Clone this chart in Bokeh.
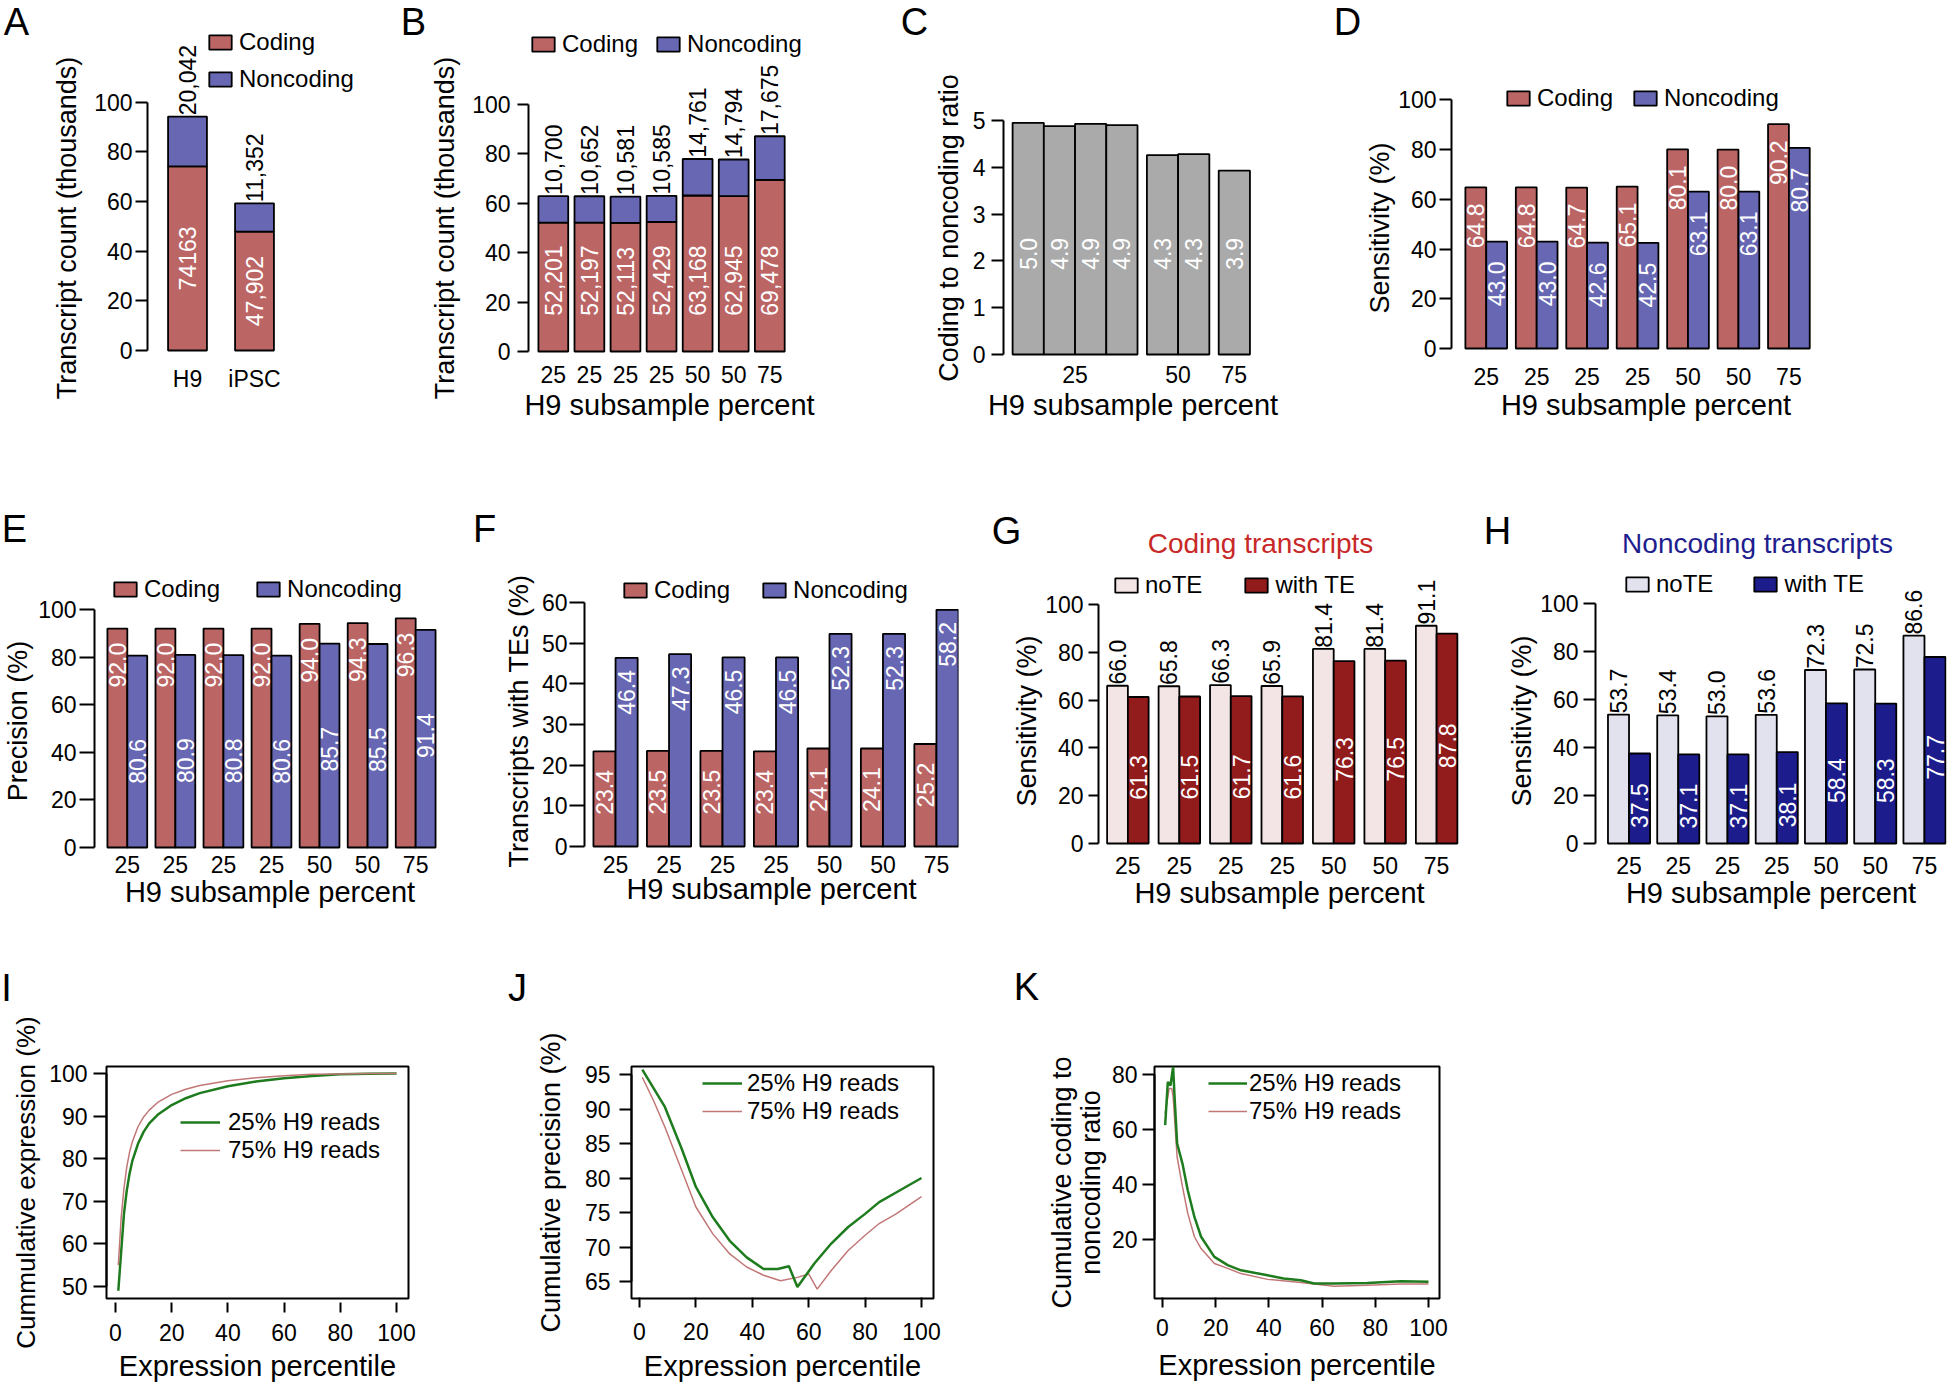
import math
from bokeh.plotting import figure
from bokeh.layouts import column, row
from bokeh.models import (Range1d, FixedTicker, Legend, LegendItem, Label,
                          CustomJSTickFormatter)
from bokeh.core.properties import value
from bokeh.embed import file_html
from bokeh.resources import INLINE

# ---------------------------------------------------------------- data
a_samples = ["H9", "iPSC"]
a_coding = [74163, 47902]
a_noncoding = [20042, 11352]
a_coding_labels = ["74163", "47,902"]
a_noncoding_labels = ["20,042", "11,352"]

subsample = ["25", "25", "25", "25", "50", "50", "75"]

b_coding = [52201, 52197, 52113, 52429, 63168, 62945, 69478]
b_noncoding = [10700, 10652, 10581, 10585, 14761, 14794, 17675]

c_groups = ["25", "50", "75"]
c_group_sizes = [4, 2, 1]
c_ratio = [4.95, 4.88, 4.93, 4.90, 4.26, 4.28, 3.93]
c_labels = ["5.0", "4.9", "4.9", "4.9", "4.3", "4.3", "3.9"]

d_coding = [64.8, 64.8, 64.7, 65.1, 80.1, 80.0, 90.2]
d_noncoding = [43.0, 43.0, 42.6, 42.5, 63.1, 63.1, 80.7]

e_coding = [92.0, 92.0, 92.0, 92.0, 94.0, 94.3, 96.3]
e_noncoding = [80.6, 80.9, 80.8, 80.6, 85.7, 85.5, 91.4]

f_coding = [23.4, 23.5, 23.5, 23.4, 24.1, 24.1, 25.2]
f_noncoding = [46.4, 47.3, 46.5, 46.5, 52.3, 52.3, 58.2]

g_note = [66.0, 65.8, 66.3, 65.9, 81.4, 81.4, 91.1]
g_withte = [61.3, 61.5, 61.7, 61.6, 76.3, 76.5, 87.8]

h_note = [53.7, 53.4, 53.0, 53.6, 72.3, 72.5, 86.6]
h_withte = [37.5, 37.1, 37.1, 38.1, 58.4, 58.3, 77.7]

pct_ticks = [0, 20, 40, 60, 80, 100]

i_x = [1, 2, 3, 4, 5, 6, 8, 10, 12, 15, 20, 25, 30, 40, 50, 60, 70, 80, 90, 100]
i_25 = [49.0, 58.0, 67.0, 72.5, 76.5, 79.5, 83.5, 86.3, 88.3, 90.3, 92.6, 94.2,
        95.4, 97.0, 98.1, 98.9, 99.4, 99.8, 99.95, 100.0]
i_75 = [55.0, 66.0, 73.0, 78.0, 81.5, 84.0, 87.5, 89.8, 91.4, 93.2, 95.1, 96.3,
        97.2, 98.3, 99.0, 99.5, 99.8, 99.9, 100.0, 100.0]

j_x25 = [1, 9, 15, 20, 26, 32, 38, 44, 49, 53, 56, 62, 68, 74, 80, 85, 91, 100]
j_25 = [95.7, 90.3, 84.2, 78.7, 74.3, 70.9, 68.5, 66.8, 66.8, 67.2, 64.2, 67.6,
        70.5, 72.9, 74.8, 76.5, 77.9, 80.0]
j_x75 = [1, 5, 9, 15, 20, 26, 32, 38, 44, 50, 56, 60, 63, 68, 74, 80, 85, 91, 100]
j_75 = [94.6, 91.2, 87.4, 81.1, 75.8, 71.9, 69.0, 67.1, 65.9, 65.1, 65.6, 66.1,
        63.9, 66.6, 69.5, 71.7, 73.4, 74.8, 77.3]

k_x25 = [1, 2, 3, 4, 4.5, 5.5, 7.5, 9.5, 12, 14.5, 19.5, 24.5, 29.5, 39.5, 45.5,
         52, 57, 64.5, 77, 89.5, 100]
k_25 = [61.6, 77.3, 76.0, 82.8, 72.5, 54.9, 47.6, 37.9, 28.2, 21.0, 13.7, 10.7,
        8.8, 7.0, 5.8, 5.2, 4.0, 4.0, 4.2, 4.8, 4.6]
k_x75 = [1, 2, 2.5, 3.5, 4, 5.5, 7.5, 9.5, 12, 14.5, 19.5, 24.5, 29.5, 39.5, 52,
         64.5, 77, 89.5, 100]
k_75 = [65.8, 71.9, 74.9, 74.9, 71.9, 50.0, 39.2, 29.5, 21.0, 16.7, 11.3, 9.5,
        7.6, 5.5, 4.4, 3.0, 3.4, 3.8, 3.8]

# ---------------------------------------------------------------- style
FONT = "Liberation Sans"
TICK_FS = "23px"
YTITLE_FS = "27px"
XTITLE_FS = "29px"
LEG_FS = "24px"
BAR_FS = "23px"
LETTER_FS = "38px"
PTITLE_FS = "28px"
AX_LW = 2
BAR_LW = 1.8
PAGE_W = 1950

CODING = "#BC6565"
NONCODING = "#6767B3"
GRAY = "#AAAAAA"
G_NOTE = "#F3E5E5"
G_TE = "#921B1B"
H_NOTE = "#E2E2EF"
H_TE = "#1C1C8C"
GREEN = "#1E7B1E"
RED_LINE = "#C27777"
TITLE_RED = "#C82828"
TITLE_BLUE = "#1E1E8E"


def lin(v0, p0, v1, p1):
    k = (v1 - v0) / (p1 - p0)
    return lambda px: v0 + (px - p0) * k


def make_panel(canvas, frame, xmap, ymap, box=False):
    cx0, cy0, cx1, cy1 = canvas
    fx0, fy0, fx1, fy1 = frame
    fx = lin(*xmap)
    fy = lin(*ymap)
    p = figure(width=cx1 - cx0, height=cy1 - cy0, title=None,
               x_range=Range1d(fx(fx0), fx(fx1)),
               y_range=Range1d(fy(fy1), fy(fy0)),
               min_border_left=fx0 - cx0, min_border_right=cx1 - fx1,
               min_border_top=fy0 - cy0, min_border_bottom=cy1 - fy1,
               output_backend="svg", toolbar_location=None)
    p.xgrid.visible = False
    p.ygrid.visible = False
    p.background_fill_color = "white"
    p.border_fill_color = "white"
    if box:
        p.outline_line_color = "black"
        p.outline_line_width = AX_LW
        p.outline_line_alpha = 1.0
    else:
        p.outline_line_color = None
    return p


def text_fig(x0, x1, y0, y1, items):
    """A bare canvas (no axes) that only carries panel letters / titles."""
    w, h = x1 - x0, y1 - y0
    p = figure(width=w, height=h, title=None,
               x_range=Range1d(0, w), y_range=Range1d(h, 0),
               min_border_left=0, min_border_right=0,
               min_border_top=0, min_border_bottom=0,
               x_axis_location=None, y_axis_location=None,
               output_backend="svg", toolbar_location=None)
    p.grid.visible = False
    p.outline_line_color = None
    p.background_fill_color = "white"
    p.border_fill_color = "white"
    for txt, x, y, size, color in items:
        p.add_layout(Label(x=x - x0, y=y - y0, text=txt, text_align="center",
                           text_baseline="middle", text_font=FONT,
                           text_font_size=size, text_color=color))
    return p


def style_y(p, ticks, title, tick_len, tick_standoff, title_standoff,
            title_fs=YTITLE_FS, line_height=1.2):
    ax = p.yaxis[0]
    ax.ticker = FixedTicker(ticks=ticks)
    ax.bounds = (ticks[0], ticks[-1])
    ax.axis_label = title
    ax.axis_line_width = AX_LW
    ax.axis_line_color = "black"
    ax.major_tick_line_width = AX_LW
    ax.major_tick_line_color = "black"
    ax.major_tick_out = tick_len
    ax.major_tick_in = 0
    ax.minor_tick_line_color = None
    ax.major_label_standoff = tick_standoff
    ax.axis_label_standoff = title_standoff
    ax.major_label_text_font = FONT
    ax.major_label_text_font_size = TICK_FS
    ax.major_label_text_color = "black"
    ax.axis_label_text_font = FONT
    ax.axis_label_text_font_size = title_fs
    ax.axis_label_text_font_style = "normal"
    ax.axis_label_text_color = "black"
    ax.axis_label_text_line_height = line_height


def style_x_common(ax, tick_standoff, title, title_standoff):
    ax.major_label_standoff = tick_standoff
    if title:
        ax.axis_label = title
    ax.axis_label_standoff = title_standoff
    ax.minor_tick_line_color = None
    ax.major_label_text_font = FONT
    ax.major_label_text_font_size = TICK_FS
    ax.major_label_text_color = "black"
    ax.axis_label_text_font = FONT
    ax.axis_label_text_font_size = XTITLE_FS
    ax.axis_label_text_font_style = "normal"
    ax.axis_label_text_color = "black"


def style_x_bars(p, ticks, labels, title, tick_standoff, title_standoff):
    ax = p.xaxis[0]
    ax.ticker = FixedTicker(ticks=ticks)
    ax.formatter = CustomJSTickFormatter(args=dict(labels=list(labels)),
                                         code="return labels[index];")
    ax.axis_line_color = None
    ax.major_tick_line_color = None
    ax.major_tick_out = 0
    ax.major_tick_in = 0
    style_x_common(ax, tick_standoff, title, title_standoff)


def style_x_lines(p, tick_in, tick_out, tick_standoff, title_standoff):
    ax = p.xaxis[0]
    ax.ticker = FixedTicker(ticks=pct_ticks)
    ax.axis_line_color = None
    ax.major_tick_line_width = AX_LW
    ax.major_tick_line_color = "black"
    ax.major_tick_in = tick_in
    ax.major_tick_out = tick_out
    style_x_common(ax, tick_standoff, "Expression percentile", title_standoff)


def vlabels(p, xs, ys, texts, align, color):
    p.text(x=xs, y=ys, text=texts, angle=math.pi / 2, text_align=align,
           text_baseline="middle", text_color=color,
           text_font=value(FONT), text_font_size=value(BAR_FS))


def add_legend(p, items, loc, orientation="horizontal", spacing=10,
               glyph_w=28, glyph_h=18, standoff=5, label_h=28):
    leg = Legend(items=[LegendItem(label=value(l), renderers=[r]) for l, r in items],
                 location=loc, orientation=orientation, spacing=spacing,
                 glyph_width=glyph_w, glyph_height=glyph_h,
                 label_standoff=standoff, label_height=label_h, label_width=10,
                 padding=0, margin=0, border_line_color=None,
                 background_fill_alpha=0, label_text_font=FONT,
                 label_text_font_size=LEG_FS, label_text_color="black")
    p.add_layout(leg)


def grouped(p, S, left_vals, right_vals, lc, rc):
    n = len(left_vals)
    xl = [g * S + 0.5 for g in range(n)]
    xr = [g * S + 1.5 for g in range(n)]
    r1 = p.vbar(x=xl, top=left_vals, bottom=0, width=1.0, fill_color=lc,
                line_color="black", line_width=BAR_LW)
    r2 = p.vbar(x=xr, top=right_vals, bottom=0, width=1.0, fill_color=rc,
                line_color="black", line_width=BAR_LW)
    ticks = [g * S + 1.0 for g in range(n)]
    return xl, xr, ticks, r1, r2


# ================================================================ row 1
R1_TOP, R1_BOT, R1_FB = 0, 460, 455

lA = text_fig(0, 40, R1_TOP, R1_BOT, [("A", 16, 22, LETTER_FS, "black")])
pA = make_panel((40, R1_TOP, 400, R1_BOT), (147, R1_TOP, 360, R1_FB),
                (1, 187, 2, 254), (0, 350, 100, 101.7))
xa = [1, 2]
a_cod = [v / 1000 for v in a_coding]
a_tot = [(c + n) / 1000 for c, n in zip(a_coding, a_noncoding)]
rA1 = pA.vbar(x=xa, top=a_cod, bottom=0, width=0.58, fill_color=CODING,
              line_color="black", line_width=BAR_LW)
rA2 = pA.vbar(x=xa, top=a_tot, bottom=a_cod, width=0.58, fill_color=NONCODING,
              line_color="black", line_width=BAR_LW)
vlabels(pA, xa, [c / 2 for c in a_cod], a_coding_labels, "center", "white")
vlabels(pA, xa, [t + 0.5 for t in a_tot], a_noncoding_labels, "left", "black")
style_y(pA, [0, 20, 40, 60, 80, 100], "Transcript count (thousands)", 12, 3, 9)
style_x_bars(pA, xa, a_samples, None, -90, 3)
add_legend(pA, [("Coding", rA1), ("Noncoding", rA2)], (59, 362),
           orientation="vertical", spacing=9)

lB = text_fig(400, 427, R1_TOP, R1_BOT, [("B", 413, 22, LETTER_FS, "black")])
pB = make_panel((427, R1_TOP, 890, R1_BOT), (526, R1_TOP, 810, R1_FB),
                (1, 551, 7, 769), (0, 351, 100, 104))
xb = list(range(1, len(b_coding) + 1))
b_cod = [v / 1000 for v in b_coding]
b_tot = [(c + n) / 1000 for c, n in zip(b_coding, b_noncoding)]
rB1 = pB.vbar(x=xb, top=b_cod, bottom=0, width=0.826, fill_color=CODING,
              line_color="black", line_width=BAR_LW)
rB2 = pB.vbar(x=xb, top=b_tot, bottom=b_cod, width=0.826, fill_color=NONCODING,
              line_color="black", line_width=BAR_LW)
vlabels(pB, xb, [14.5] * len(xb), [f"{v:,}" for v in b_coding], "left", "white")
vlabels(pB, xb, [t + 0.5 for t in b_tot], [f"{v:,}" for v in b_noncoding], "left", "black")
style_y(pB, [0, 20, 40, 60, 80, 100], "Transcript count (thousands)", 11, 7, 9)
style_x_bars(pB, xb, subsample, "H9 subsample percent", -90, 3)
add_legend(pB, [("Coding", rB1), ("Noncoding", rB2)], (1, 397), spacing=16)

C_GAP = 0.3
c_x = []
c_ticks = []
pos = 0.0
for gi, n in enumerate(c_group_sizes):
    if gi > 0:
        pos += C_GAP
    start = pos
    for k in range(n):
        c_x.append(pos + 0.5)
        pos += 1.0
    c_ticks.append((start + pos) / 2)
lC = text_fig(890, 930, R1_TOP, R1_BOT, [("C", 914, 22, LETTER_FS, "black")])
pC = make_panel((930, R1_TOP, 1330, R1_BOT), (1000, R1_TOP, 1262, R1_FB),
                (0.5, 1025, 7.1, 1233.5), (0, 354, 5, 120))
pC.vbar(x=c_x, top=c_ratio, bottom=0, width=1.0, fill_color=GRAY,
        line_color="black", line_width=BAR_LW)
vlabels(pC, c_x, [2.15] * len(c_x), c_labels, "center", "white")
style_y(pC, [0, 1, 2, 3, 4, 5], "Coding to noncoding ratio", 12, 6, 6)
style_x_bars(pC, c_ticks, c_groups, "H9 subsample percent", -90, 3)

lD = text_fig(1330, 1362, R1_TOP, R1_BOT, [("D", 1347, 22, LETTER_FS, "black")])
pD = make_panel((1362, R1_TOP, PAGE_W, R1_BOT), (1448, R1_TOP, 1840, R1_FB),
                (0.5, 1472.5, 16.02, 1798.5), (0, 348, 100, 99.3))
xl, xr, tk, rD1, rD2 = grouped(pD, 2.42, d_coding, d_noncoding, CODING, NONCODING)
vlabels(pD, xl, [v - 6.5 for v in d_coding], [f"{v:.1f}" for v in d_coding], "right", "white")
vlabels(pD, xr, [v - 8 for v in d_noncoding], [f"{v:.1f}" for v in d_noncoding], "right", "white")
style_y(pD, [0, 20, 40, 60, 80, 100], "Sensitivity (%)", 12, 3, 0)
style_x_bars(pD, tk, subsample, "H9 subsample percent", -88, 1)
add_legend(pD, [("Coding", rD1), ("Noncoding", rD2)], (53, 343), spacing=18)

# ================================================================ row 2
H2_TOP = R1_BOT
R2_TOP, R2_BOT, R2_FB = 560, 925, 881

h2 = text_fig(0, PAGE_W, H2_TOP, R2_TOP,
              [("E", 14, 528, LETTER_FS, "black"),
               ("F", 484, 528, LETTER_FS, "black"),
               ("G", 1006, 530, LETTER_FS, "black"),
               ("H", 1497, 530, LETTER_FS, "black"),
               ("Coding transcripts", 1260, 543, PTITLE_FS, TITLE_RED),
               ("Noncoding transcripts", 1757, 543, PTITLE_FS, TITLE_BLUE)])

pE = make_panel((0, R2_TOP, 470, R2_BOT), (92, R2_TOP, 445, R2_FB),
                (0.5, 115, 15.99, 425), (0, 847, 100, 609))
xl, xr, tk, rE1, rE2 = grouped(pE, 2.415, e_coding, e_noncoding, CODING, NONCODING)
vlabels(pE, xl, [v - 6 for v in e_coding], [f"{v:.1f}" for v in e_coding], "right", "white")
vlabels(pE, xr, [v - 35 for v in e_noncoding], [f"{v:.1f}" for v in e_noncoding], "right", "white")
style_y(pE, [0, 20, 40, 60, 80, 100], "Precision (%)", 15, 3, 2)
style_x_bars(pE, tk, subsample, "H9 subsample percent", -26, 0)
add_legend(pE, [("Coding", rE1), ("Noncoding", rE2)], (17, 278), spacing=34)

pF = make_panel((470, R2_TOP, 960, R2_BOT), (584, R2_TOP, 958, R2_FB),
                (0.5, 604, 16.02, 947), (0, 846, 60, 602))
xl, xr, tk, rF1, rF2 = grouped(pF, 2.42, f_coding, f_noncoding, CODING, NONCODING)
vlabels(pF, xl, [v - 4.6 for v in f_coding], [f"{v:.1f}" for v in f_coding], "right", "white")
vlabels(pF, xr, [v - 3 for v in f_noncoding], [f"{v:.1f}" for v in f_noncoding], "right", "white")
style_y(pF, [0, 10, 20, 30, 40, 50, 60], "Transcripts with TEs (%)", 15, 2, 5)
style_x_bars(pF, tk, subsample, "H9 subsample percent", -26, -3)
add_legend(pF, [("Coding", rF1), ("Noncoding", rF2)], (37, 277), spacing=30)

pG = make_panel((960, R2_TOP, 1460, R2_BOT), (1098, R2_TOP, 1460, R2_FB),
                (0.5, 1117, 16.38, 1446.5), (0, 843, 100, 604))
xl, xr, tk, rG1, rG2 = grouped(pG, 2.48, g_note, g_withte, G_NOTE, G_TE)
vlabels(pG, xl, [v + 0.5 for v in g_note], [f"{v:.1f}" for v in g_note], "left", "black")
vlabels(pG, xr, [v / 2 - 3 for v in g_withte], [f"{v:.1f}" for v in g_withte], "center", "white")
style_y(pG, [0, 20, 40, 60, 80, 100], "Sensitivity (%)", 10, 5, 0)
style_x_bars(pG, tk, subsample, "H9 subsample percent", -25, 0)
add_legend(pG, [("noTE", rG1), ("with TE", rG2)], (14, 282), spacing=40)

pH = make_panel((1460, R2_TOP, PAGE_W, R2_BOT), (1595, R2_TOP, 1946, R2_FB),
                (0.5, 1618, 15.54, 1934.5), (0, 843, 100, 603))
xl, xr, tk, rH1, rH2 = grouped(pH, 2.34, h_note, h_withte, H_NOTE, H_TE)
vlabels(pH, xl, [v + 0.5 for v in h_note], [f"{v:.1f}" for v in h_note], "left", "black")
vlabels(pH, xr, [v / 2 - 3 for v in h_withte], [f"{v:.1f}" for v in h_withte], "center", "white")
style_y(pH, [0, 20, 40, 60, 80, 100], "Sensitivity (%)", 12, 5, 0)
style_x_bars(pH, tk, subsample, "H9 subsample percent", -25, 0)
add_legend(pH, [("noTE", rH1), ("with TE", rH2)], (28, 283), spacing=38)

# ================================================================ row 3
H3_TOP = R2_BOT
R3_TOP, R3_BOT, R3_FT, R3_FB = 1010, 1386, 1066, 1298

h3 = text_fig(0, PAGE_W, H3_TOP, R3_TOP,
              [("I", 6, 987, LETTER_FS, "black"),
               ("J", 517, 987, LETTER_FS, "black"),
               ("K", 1026, 986, LETTER_FS, "black")])

pI = make_panel((0, R3_TOP, 500, R3_BOT), (106, R3_FT, 408, R3_FB),
                (0, 115, 100, 396), (50, 1286, 100, 1073), box=True)
rI1 = pI.line(i_x, i_25, line_color=GREEN, line_width=2.5)
rI2 = pI.line(i_x, i_75, line_color=RED_LINE, line_width=1.5)
style_y(pI, [50, 60, 70, 80, 90, 100], "Cummulative expression (%)", 13, 6, 5,
        title_fs="26px")
style_x_lines(pI, -4, 14, 11, 6)
add_legend(pI, [("25% H9 reads", rI1), ("75% H9 reads", rI2)], (74, 134),
           orientation="vertical", spacing=-2, glyph_w=40, standoff=8, label_h=26)

pJ = make_panel((500, R3_TOP, 1000, R3_BOT), (631, R3_FT, 933, R3_FB),
                (0, 639, 100, 921), (95, 1074, 65, 1281), box=True)
rJ2 = pJ.line(j_x75, j_75, line_color=RED_LINE, line_width=1.5)
rJ1 = pJ.line(j_x25, j_25, line_color=GREEN, line_width=2.5)
style_y(pJ, [65, 70, 75, 80, 85, 90, 95], "Cumulative precision (%)", 12, 9, 16)
style_x_lines(pJ, 1, 9, 15, 7)
add_legend(pJ, [("25% H9 reads", rJ1), ("75% H9 reads", rJ2)], (71, 173),
           orientation="vertical", spacing=0, glyph_w=40, standoff=5, label_h=27)

pK = make_panel((1000, R3_TOP, 1480, R3_BOT), (1154, R3_FT, 1439, R3_FB),
                (0, 1162, 100, 1428), (80, 1074, 20, 1239), box=True)
rK2 = pK.line(k_x75, k_75, line_color=RED_LINE, line_width=1.5)
rK1 = pK.line(k_x25, k_25, line_color=GREEN, line_width=2.5)
style_y(pK, [20, 40, 60, 80], "Cumulative coding to\nnoncoding ratio", 12, 5, 3,
        line_height=0.95)
style_x_lines(pK, 1, 9, 11, 10)
add_legend(pK, [("25% H9 reads", rK1), ("75% H9 reads", rK2)], (54, 173),
           orientation="vertical", spacing=-2, glyph_w=39, standoff=2, label_h=26)

layout = column(row(lA, pA, lB, pB, lC, pC, lD, pD),
                h2, row(pE, pF, pG, pH),
                h3, row(pI, pJ, pK))
open("out.html", "w").write(file_html(layout, INLINE, title="Transcript assembly panels"))
